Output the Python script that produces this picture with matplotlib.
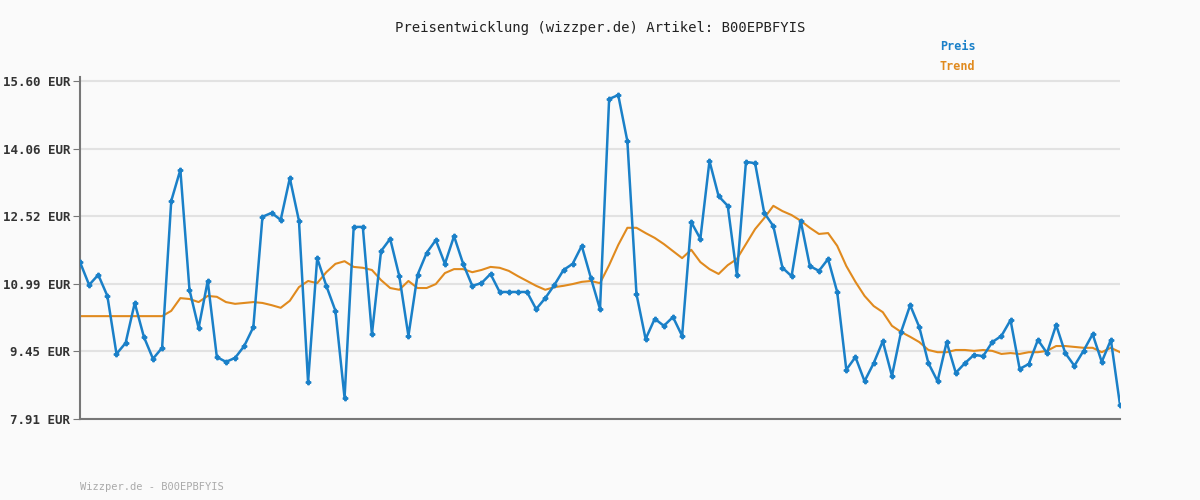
import numpy as np
import matplotlib.pyplot as plt

# Preisverlauf
preis = [11.48, 10.96, 11.19, 10.71, 9.39, 9.64, 10.55, 9.78, 9.28, 9.53,
         12.87, 13.58, 10.85, 9.98, 11.05, 9.32, 9.21, 9.30, 9.57, 10.00,
         12.51, 12.60, 12.44, 13.39, 12.42, 8.75, 11.57, 10.94, 10.37, 8.39,
         12.28, 12.28, 9.84, 11.73, 12.01, 11.16, 9.80, 11.19, 11.69, 11.98,
         11.44, 12.07, 11.44, 10.94, 11.00, 11.21, 10.80, 10.80, 10.80, 10.80,
         10.41, 10.66, 10.96, 11.30, 11.44, 11.85, 11.12, 10.41, 15.19, 15.28,
         14.23, 10.75, 9.73, 10.19, 10.03, 10.23, 9.80, 12.39, 12.01, 13.78,
         12.98, 12.76, 11.19, 13.76, 13.73, 12.60, 12.30, 11.35, 11.16, 12.42,
         11.39, 11.28, 11.55, 10.80, 9.03, 9.32, 8.77, 9.18, 9.68, 8.89,
         9.89, 10.50, 10.00, 9.18, 8.77, 9.66, 8.96, 9.18, 9.37, 9.34,
         9.66, 9.80, 10.16, 9.05, 9.16, 9.71, 9.41, 10.05, 9.41, 9.12,
         9.46, 9.84, 9.21, 9.71, 8.23]

trend = [10.25] * 10 + [
    10.37, 10.66, 10.64, 10.57, 10.71, 10.69, 10.57, 10.53, 10.55, 10.57,
    10.55, 10.50, 10.44, 10.60, 10.91, 11.05, 11.00, 11.25, 11.44, 11.50,
    11.37, 11.35, 11.30, 11.07, 10.89, 10.85, 11.05, 10.89, 10.89, 10.98,
    11.23, 11.32, 11.32, 11.25, 11.30, 11.37, 11.35, 11.28, 11.16, 11.05,
    10.94, 10.85, 10.91, 10.94, 10.98, 11.03, 11.05, 11.00, 11.41, 11.87,
    12.26, 12.26, 12.14, 12.03, 11.89, 11.73, 11.57, 11.76, 11.48, 11.32,
    11.21, 11.41, 11.55, 11.89, 12.23, 12.48, 12.76, 12.64, 12.55, 12.42,
    12.26, 12.12, 12.14, 11.85, 11.39, 11.03, 10.71, 10.48, 10.34, 10.03,
    9.89, 9.78, 9.66, 9.48, 9.43, 9.43, 9.48, 9.48, 9.46, 9.48,
    9.46, 9.39, 9.41, 9.39, 9.43, 9.43, 9.46, 9.57, 9.57, 9.55,
    9.53, 9.53, 9.43, 9.53, 9.43]

yticks = [7.91, 9.45, 10.99, 12.52, 14.06, 15.60]

blue = '#1a80c8'
orange = '#e08a1e'
bg = '#fafafa'
mono = 'DejaVu Sans Mono'

fig = plt.figure(figsize=(12, 5), dpi=100, facecolor=bg)
ax = fig.add_axes([80 / 1200, 1 - 419 / 500, 1040 / 1200, 349 / 500])
ax.set_facecolor(bg)

x = np.arange(len(preis))
ax.plot(x, trend, color=orange, lw=1.5, zorder=2)
ax.plot(x, preis, color=blue, lw=1.8, marker='P', markersize=3.2, zorder=3)

ax.set_xlim(0, len(preis) - 1)
ax.set_ylim(7.91, 15.85)
ax.set_yticks(yticks)
ax.set_yticklabels([f'{v:.2f} EUR' for v in yticks], family=mono, fontsize=9,
                   color='#333333', fontweight='bold')
ax.set_xticks([])
ax.tick_params(axis='y', length=5, color='#777777', pad=2)
ax.grid(axis='y', color='#e2e2e2', lw=1.5)
ax.set_axisbelow(True)
for s in ['top', 'right']:
    ax.spines[s].set_visible(False)
for s in ['left', 'bottom']:
    ax.spines[s].set_color('#777777')
    ax.spines[s].set_linewidth(1.5)
ax.spines['left'].set_bounds(7.91, 15.68)

fig.text(0.5, 1 - 28 / 500, 'Preisentwicklung (wizzper.de) Artikel: B00EPBFYIS',
         ha='center', va='center', family=mono, fontsize=10, color='#222222')
fig.text(940 / 1200, 1 - 47 / 500, 'Preis', family=mono, fontsize=8.5,
         color=blue, fontweight='bold', va='center')
fig.text(940 / 1200, 1 - 67 / 500, 'Trend', family=mono, fontsize=8.5,
         color=orange, fontweight='bold', va='center')
fig.text(80 / 1200, 1 - 487 / 500, 'Wizzper.de - B00EPBFYIS', family=mono,
         fontsize=7.5, color='#aaaaaa', va='center')

fig.savefig('out.png', facecolor=bg)
